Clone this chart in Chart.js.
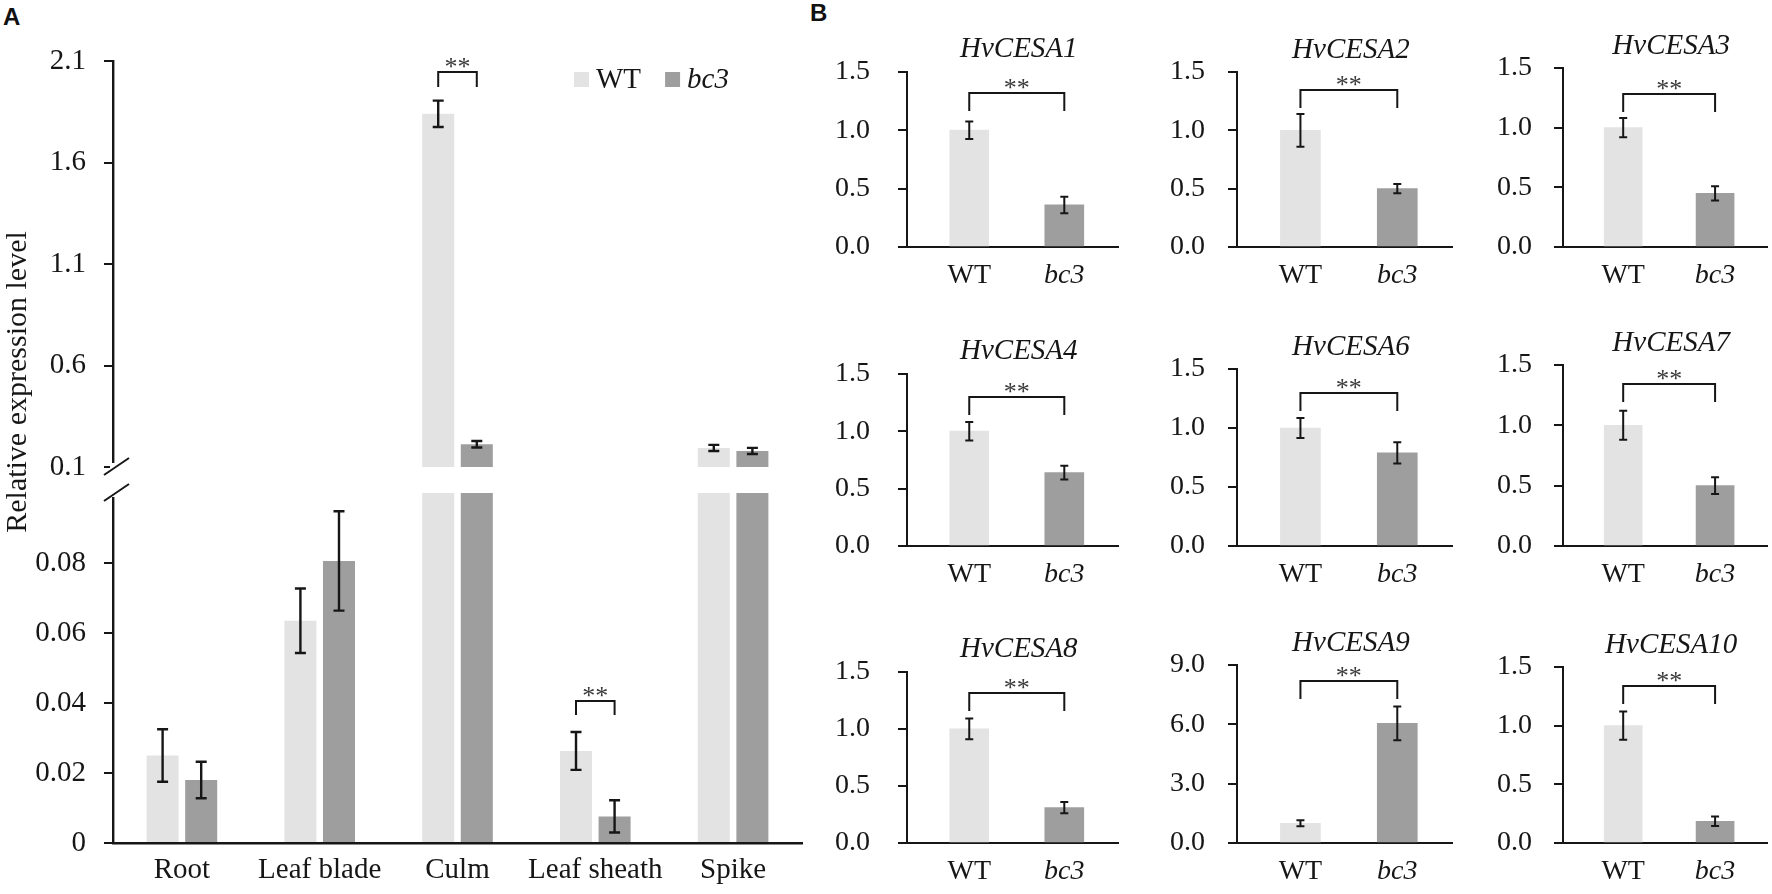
<!DOCTYPE html>
<html>
<head>
<meta charset="utf-8">
<title>Relative expression</title>
<script src="https://cdn.jsdelivr.net/npm/chart.js@4.4.1/dist/chart.umd.min.js"></script>
<style>
  body { margin: 0; width: 1772px; height: 894px; background: #fff; overflow: hidden; position: relative; }
  canvas { position: absolute; }
  .panel-tag { position: absolute; font-family: "Liberation Sans", Arial, sans-serif; font-weight: bold; font-size: 24px; color: #111; }
</style>
</head>
<body>
<div class="panel-tag" style="left:3px;top:3px">A</div>
<div class="panel-tag" style="left:810px;top:-1px">B</div>
<canvas id="aTop"></canvas>
<canvas id="aBottom"></canvas>
<script>
const WT_COLOR = '#e3e3e3';
const BC3_COLOR = '#9e9e9e';
const INK = '#161616';
const SERIF = '"Liberation Serif", "Times New Roman", serif';

// PANEL A - tissues
const tissues = ['Root', 'Leaf blade', 'Culm', 'Leaf sheath', 'Spike'];
const wtLevel = [0.025, 0.0635, 1.84, 0.0263, 0.194];
const wtSd = [0.0075, 0.0092, 0.065, 0.0054, 0.015];
const bc3Level = [0.018, 0.0806, 0.212, 0.0076, 0.179];
const bc3Sd = [0.0052, 0.0142, 0.016, 0.0046, 0.015];
const upperTicks = [0.1, 0.6, 1.1, 1.6, 2.1];
const lowerTicks = [0, 0.02, 0.04, 0.06, 0.08];
const tissueSig = ['Culm', 'Leaf sheath'];
const tissueSigLevel = [2.046, 0.0406];

// PANEL B - HvCESA genes
const genotypes = ['WT', 'bc3'];
const genes = ['HvCESA1', 'HvCESA2', 'HvCESA3', 'HvCESA4', 'HvCESA6', 'HvCESA7', 'HvCESA8', 'HvCESA9', 'HvCESA10'];
const geneWT = [1, 1, 1, 1, 1, 1, 1, 1, 1];
const geneWTSd = [0.075, 0.14, 0.08, 0.08, 0.085, 0.12, 0.09, 0.15, 0.12];
const geneBc3 = [0.36, 0.50, 0.45, 0.64, 0.79, 0.50, 0.31, 6.05, 0.185];
const geneBc3Sd = [0.07, 0.04, 0.06, 0.06, 0.09, 0.07, 0.05, 0.85, 0.04];
const geneAxisMax = [1.5, 1.5, 1.5, 1.5, 1.5, 1.5, 1.5, 9.0, 1.5];
const geneAxisStep = [0.5, 0.5, 0.5, 0.5, 0.5, 0.5, 0.5, 3.0, 0.5];
const geneSigLevel = [1.32, 1.35, 1.28, 1.30, 1.30, 1.34, 1.31, 8.2, 1.34];

Chart.defaults.font.family = SERIF;
Chart.defaults.color = INK;
Chart.defaults.animation = false;

function place(canvas, left, top, w, h) {
  canvas.width = w;
  canvas.height = h;
  canvas.style.left = left + 'px';
  canvas.style.top = top + 'px';
  canvas.style.width = w + 'px';
  canvas.style.height = h + 'px';
}

// error bars, drawn only when the mean sits inside this chart's y range
function errorBars(lineWidth, cap) {
  return {
    id: 'errorBars',
    afterDatasetsDraw(chart) {
      const ctx = chart.ctx, y = chart.scales.y;
      ctx.save();
      ctx.strokeStyle = INK;
      ctx.lineWidth = lineWidth;
      chart.data.datasets.forEach(function(ds, di) {
        const meta = chart.getDatasetMeta(di);
        meta.data.forEach(function(bar, i) {
          const v = meta._parsed[i].y;
          if (v < y.min || v > y.max) return;
          const top = y.getPixelForValue(v + ds.errors[i]);
          const bot = y.getPixelForValue(v - ds.errors[i]);
          ctx.beginPath();
          ctx.moveTo(bar.x, top); ctx.lineTo(bar.x, bot);
          ctx.moveTo(bar.x - cap, top); ctx.lineTo(bar.x + cap, top);
          ctx.moveTo(bar.x - cap, bot); ctx.lineTo(bar.x + cap, bot);
          ctx.stroke();
        });
      });
      ctx.restore();
    }
  };
}

// ** brackets between two bars
function sigBrackets(items, leg) {
  return {
    id: 'sigBrackets',
    afterDatasetsDraw(chart) {
      const ctx = chart.ctx, y = chart.scales.y;
      items.forEach(function(it) {
        if (it.level < y.min || it.level > y.max) return;
        const x1 = chart.getDatasetMeta(it.a[0]).data[it.a[1]].x;
        const x2 = chart.getDatasetMeta(it.b[0]).data[it.b[1]].x;
        const top = Math.round(y.getPixelForValue(it.level));
        ctx.save();
        ctx.strokeStyle = INK;
        ctx.lineWidth = 2;
        ctx.beginPath();
        ctx.moveTo(x1, top + leg); ctx.lineTo(x1, top); ctx.lineTo(x2, top); ctx.lineTo(x2, top + leg);
        ctx.stroke();
        ctx.fillStyle = '#3a3a3a';
        ctx.font = '26px ' + SERIF;
        ctx.textAlign = 'center';
        ctx.textBaseline = 'alphabetic';
        ctx.fillText('**', (x1 + x2) / 2, top + 3);
        ctx.restore();
      });
    }
  };
}

// the two slashes of the broken axis
function axisBreak(edge) {
  return {
    id: 'axisBreak',
    afterDraw(chart) {
      const ctx = chart.ctx, a = chart.chartArea;
      const y = edge === 'bottom' ? a.bottom : a.top;
      ctx.save();
      ctx.fillStyle = '#fff';
      ctx.fillRect(a.left - 3, y - 4, 6, 8);
      ctx.strokeStyle = INK;
      ctx.lineWidth = 2;
      ctx.beginPath();
      ctx.moveTo(a.left - 9, y + 8);
      ctx.lineTo(a.left + 16, y - 9);
      ctx.stroke();
      ctx.restore();
    }
  };
}

const legendBox = {
  id: 'legendBox',
  afterDraw(chart) {
    const ctx = chart.ctx;
    let x = 574;
    ctx.save();
    chart.data.datasets.forEach(function(ds) {
      ctx.fillStyle = ds.backgroundColor;
      ctx.fillRect(x, 72, 15, 15);
      ctx.fillStyle = INK;
      ctx.font = (ds.label === 'bc3' ? 'italic ' : '') + '29px ' + SERIF;
      ctx.textBaseline = 'alphabetic';
      ctx.fillText(ds.label, x + 22, 88);
      x += 22 + ctx.measureText(ds.label).width + 24;
    });
    ctx.restore();
  }
};

const yTitle = {
  id: 'yTitle',
  afterDraw(chart) {
    const ctx = chart.ctx;
    ctx.save();
    ctx.translate(18, 382);
    ctx.rotate(-Math.PI / 2);
    ctx.fillStyle = INK;
    ctx.font = '30px ' + SERIF;
    ctx.textAlign = 'center';
    ctx.textBaseline = 'middle';
    ctx.fillText('Relative expression level', 0, 0);
    ctx.restore();
  }
};

function tissueDatasets() {
  return [
    { label: 'WT', data: wtLevel, errors: wtSd, backgroundColor: WT_COLOR },
    { label: 'bc3', data: bc3Level, errors: bc3Sd, backgroundColor: BC3_COLOR }
  ];
}

const tissueBrackets = tissueSig.map(function(name, k) {
  const i = tissues.indexOf(name);
  return { a: [0, i], b: [1, i], level: tissueSigLevel[k] };
});

function tissueYAxis(min, max, ticks, label) {
  return {
    min: min,
    max: max,
    afterBuildTicks: function(s) { s.ticks = ticks.map(function(v) { return { value: v }; }); },
    afterFit: function(s) { s.width = 113; },
    grid: { drawOnChartArea: false, drawTicks: true, tickLength: 9, color: INK, lineWidth: 2 },
    border: { color: INK, width: 2.4 },
    ticks: { padding: 18, color: INK, font: { size: 29 }, callback: label }
  };
}

// PANEL A upper part (0.1 - 2.1)
const aTop = document.getElementById('aTop');
place(aTop, 0, 0, 820, 894);
new Chart(aTop, {
  type: 'bar',
  data: { labels: tissues, datasets: tissueDatasets() },
  options: {
    responsive: false,
    layout: { padding: { top: 61, right: 18, bottom: 427, left: 0 } },
    datasets: { bar: { categoryPercentage: 0.56, barPercentage: 0.83 } },
    plugins: { legend: { display: false }, tooltip: { enabled: false } },
    scales: {
      x: { display: false },
      y: tissueYAxis(0.1, 2.1, upperTicks, function(v) { return v.toFixed(1); })
    }
  },
  plugins: [errorBars(2.4, 5.5), sigBrackets(tissueBrackets, 15), axisBreak('bottom'), legendBox]
});

// PANEL A lower part (0 - 0.1)
const aBottom = document.getElementById('aBottom');
place(aBottom, 0, 0, 820, 894);
new Chart(aBottom, {
  type: 'bar',
  data: { labels: tissues, datasets: tissueDatasets() },
  options: {
    responsive: false,
    layout: { padding: { top: 493, right: 18, bottom: 0, left: 0 } },
    datasets: { bar: { categoryPercentage: 0.56, barPercentage: 0.83 } },
    plugins: { legend: { display: false }, tooltip: { enabled: false } },
    scales: {
      x: {
        afterFit: function(s) { s.height = 51; },
        grid: { display: false, drawTicks: false },
        border: { color: INK, width: 2.4 },
        ticks: { padding: 10, color: INK, font: { size: 29 }, autoSkip: false, maxRotation: 0, minRotation: 0 }
      },
      y: tissueYAxis(0, 0.1, lowerTicks, function(v) { return String(v); })
    }
  },
  plugins: [errorBars(2.4, 5.5), sigBrackets(tissueBrackets, 14), axisBreak('top'), yTitle]
});

// PANEL B small multiples, 3 x 3
const colAxisX = [907, 1237, 1563];
const colPlotW = [211, 215, 204];
const colLabelPad = [28, 23, 22];
const plotTopY = [67, 72, 68, 369, 369, 365, 667, 665, 667];
const rowBottomY = [247, 546, 843];
const yBoxW = 100, xBoxH = 52, topPad = 40;

function geneTitle(text) {
  return {
    id: 'geneTitle',
    afterDraw(chart) {
      const bars = chart.getDatasetMeta(0).data;
      const ctx = chart.ctx;
      ctx.save();
      ctx.fillStyle = INK;
      ctx.font = 'italic 29px ' + SERIF;
      ctx.textAlign = 'center';
      ctx.textBaseline = 'middle';
      ctx.fillText(text, (bars[0].x + bars[1].x) / 2 + 2, chart.chartArea.top - 22);
      ctx.restore();
    }
  };
}

genes.forEach(function(gene, k) {
  const col = k % 3, row = Math.floor(k / 3);
  const plotW = colPlotW[col];
  const plotH = rowBottomY[row] - plotTopY[k];
  const canvas = document.createElement('canvas');
  document.body.appendChild(canvas);
  place(canvas, colAxisX[col] - yBoxW, plotTopY[k] - topPad, yBoxW + plotW + 2, topPad + plotH + xBoxH);

  new Chart(canvas, {
    type: 'bar',
    data: {
      datasets: [{
        data: [{ x: 0, y: geneWT[k] }, { x: 1, y: geneBc3[k] }],
        errors: [geneWTSd[k], geneBc3Sd[k]],
        backgroundColor: [WT_COLOR, BC3_COLOR],
        barThickness: Math.round(plotW * 0.185)
      }]
    },
    options: {
      responsive: false,
      layout: { padding: { top: topPad, right: 2, bottom: 0, left: 0 } },
      plugins: { legend: { display: false }, tooltip: { enabled: false } },
      scales: {
        x: {
          type: 'linear',
          min: -0.655,
          max: 1.565,
          offset: false,
          afterBuildTicks: function(s) { s.ticks = genotypes.map(function(g, i) { return { value: i }; }); },
          afterFit: function(s) { s.height = xBoxH; },
          grid: { display: false, drawTicks: false },
          border: { color: INK, width: 2 },
          ticks: {
            padding: 12,
            color: INK,
            maxRotation: 0,
            minRotation: 0,
            font: function(c) { return { family: SERIF, size: 28, style: c.index === 1 ? 'italic' : 'normal' }; },
            callback: function(v) { return genotypes[v]; }
          }
        },
        y: {
          min: 0,
          max: geneAxisMax[k],
          ticks: {
            stepSize: geneAxisStep[k],
            padding: colLabelPad[col],
            color: INK,
            font: { size: 28 },
            callback: function(v) { return v.toFixed(1); }
          },
          afterFit: function(s) { s.width = yBoxW; },
          grid: { drawOnChartArea: false, drawTicks: true, tickLength: 9, color: INK, lineWidth: 2 },
          border: { color: INK, width: 2 }
        }
      }
    },
    plugins: [errorBars(2, 4), sigBrackets([{ a: [0, 0], b: [0, 1], level: geneSigLevel[k] }], 18), geneTitle(gene)]
  });
});
</script>
</body>
</html>
